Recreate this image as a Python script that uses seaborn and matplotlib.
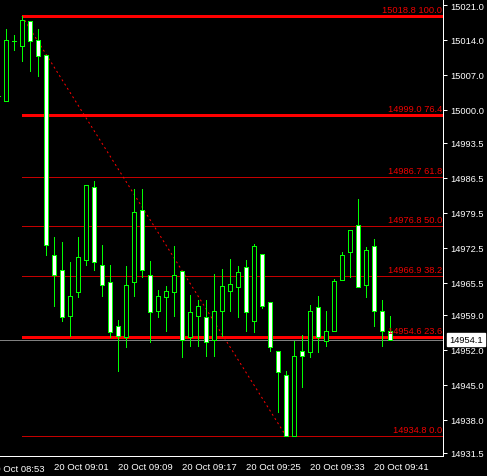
import numpy as np
import pandas as pd
import matplotlib
matplotlib.use("Agg")
import matplotlib.pyplot as plt
import matplotlib.transforms as mtransforms
import seaborn as sns

# ---- data (1-minute candles, 20 Oct 08:54 .. 09:43) ----
opens = [15002.9, 15001.9, 15013.9, 15012.9, 15017.9, 15014.1, 15011.1, 14971.1, 14968.1, 14958.9,
         14963.7, 14970.1, 14984.7, 14969.1, 14965.7, 14956.7, 14954.7, 14965.7, 14980.1, 14967.1,
         14959.9, 14962.7, 14963.7, 14967.7, 14954.7, 14958.9, 14958.7, 14954.0, 14959.9, 14963.9,
         14964.7, 14968.7, 14957.9, 14971.1, 14961.7, 14951.9, 14946.9, 14934.9, 14951.7, 14951.7,
         14960.7, 14953.9, 14955.9, 14966.1, 14971.7, 14977.1, 14965.1, 14972.7, 14959.7, 14955.7]
highs = [15002.9, 15016.2, 15015.0, 15018.8, 15017.9, 15016.2, 15011.1, 14974.7, 14973.7, 14969.7,
         14974.7, 14985.1, 14985.8, 14973.1, 14969.1, 14958.0, 14968.8, 14984.2, 14984.2, 14969.8,
         14964.0, 14964.8, 14972.8, 14967.7, 14963.0, 14962.0, 14962.0, 14967.2, 14968.2, 14970.2,
         14968.8, 14970.1, 14973.2, 14971.1, 14961.7, 14951.9, 14947.9, 14953.9, 14955.0, 14961.0,
         14962.8, 14959.9, 14966.2, 14971.7, 14976.1, 14982.2, 14972.7, 14974.2, 14962.0, 14958.9]
lows = [15002.9, 15001.9, 15012.1, 15009.9, 15007.9, 15006.9, 14971.1, 14960.9, 14957.9, 14954.9,
        14962.7, 14969.1, 14968.1, 14962.9, 14954.7, 14947.9, 14952.7, 14962.9, 14966.7, 14953.7,
        14958.7, 14955.9, 14958.9, 14950.7, 14952.9, 14952.9, 14950.9, 14950.9, 14954.9, 14959.9,
        14958.7, 14955.9, 14955.7, 14960.5, 14951.9, 14939.7, 14934.8, 14934.8, 14944.7, 14950.7,
        14951.7, 14952.9, 14955.9, 14966.1, 14966.7, 14964.7, 14962.7, 14956.9, 14952.9, 14954.0]
closes = [15002.9, 15014.1, 15013.9, 15018.1, 15013.9, 15010.9, 14973.1, 14967.1, 14958.7, 14962.7,
          14970.7, 14985.1, 14969.7, 14965.1, 14955.7, 14954.9, 14965.1, 14979.7, 14968.1, 14959.7,
          14962.9, 14963.9, 14967.1, 14954.0, 14959.7, 14960.7, 14953.7, 14959.7, 14964.7, 14965.1,
          14967.7, 14959.7, 14972.7, 14960.9, 14952.7, 14947.7, 14934.8, 14950.9, 14950.9, 14959.9,
          14954.7, 14955.7, 14965.7, 14971.1, 14976.1, 14964.7, 14972.1, 14959.9, 14955.9, 14954.1]

fib_prices = [15018.8, 14999.0, 14986.7, 14976.8, 14966.9, 14954.6, 14934.8]
fib_pcts = [100.0, 76.4, 61.8, 50.0, 38.2, 23.6, 0.0]
fib_strong = [True, True, False, False, False, True, False]

trend_prices = [15018.8, 14934.8]
current_price = 14954.1

y_ticks = [15021.0, 15014.0, 15007.0, 15000.0, 14993.5, 14986.5, 14979.5,
           14972.5, 14965.5, 14959.0, 14952.0, 14945.0, 14938.0, 14931.5]
x_tick_labels = ["20 Oct 08:53", "20 Oct 09:01", "20 Oct 09:09", "20 Oct 09:17",
                 "20 Oct 09:25", "20 Oct 09:33", "20 Oct 09:41"]

# ---- frame ----
times = pd.date_range("2013-10-20 08:54", periods=len(opens), freq="min")
df = pd.DataFrame({"t": times, "open": opens, "high": highs, "low": lows, "close": closes})
df["i"] = np.arange(len(df))

sns.set_theme(style="dark", rc={"axes.facecolor": "black", "figure.facecolor": "black",
                                "axes.grid": False})
plt.rcParams["font.family"] = ["Liberation Sans", "DejaVu Sans"]

W, H = 487, 477
fig = plt.figure(figsize=(W / 100, H / 100), dpi=100)
ax = fig.add_axes([0, 20 / H, 443 / W, 457 / H])
ax.set_facecolor("black")

GREEN = "#00ff00"
px = 0.72  # 1 pixel in points

# wicks
ax.vlines(df["i"], df["low"], df["high"], color=GREEN, linewidth=1.0 * px, zorder=2,
          antialiased=False)
# bodies
bull = df["close"] >= df["open"]
bottoms = np.minimum(df["open"], df["close"])
heights = np.abs(df["close"] - df["open"])
fills = np.where(bull, "black", "white")
ax.bar(df["i"], heights, bottom=bottoms, width=0.5, color=fills, edgecolor=GREEN,
       linewidth=1.0 * px, zorder=3, antialiased=False)

# axes limits (candle i at pixel 6 + 8*(i-1))
x0, x1 = 0.25, 55.625
ax.set_xlim(x0, x1)
ax.set_ylim(14930.8, 15022.2)

# fibonacci levels
for p, pct, strong in zip(fib_prices, fib_pcts, fib_strong):
    ax.hlines(p, 3, x1, color="#ff0000" if strong else "#c40000",
              linewidth=(1.4 if strong else 1.0) * px, zorder=1, antialiased=False)
    ax.text(55.5, p + 0.35, f"{p:.1f} {pct:.1f}", color="#f00000", fontsize=6.7,
            ha="right", va="bottom", zorder=4)

# trend line
trend = pd.DataFrame({"i": [3, 36], "p": trend_prices})
sns.lineplot(data=trend, x="i", y="p", ax=ax, color="#ff0000", linewidth=1.0 * px,
             dashes=False, zorder=1)
ax.lines[-1].set_linestyle((0, (2, 3)))

# current price line
ax.axhline(current_price, color="#808080", linewidth=1.0 * px, zorder=1, antialiased=False)

# spines / ticks
for s in ["left", "top"]:
    ax.spines[s].set_visible(False)
for s in ["right", "bottom"]:
    ax.spines[s].set_visible(True)
    ax.spines[s].set_color("white")
    ax.spines[s].set_linewidth(1.0 * px)

ax.yaxis.tick_right()
ax.set_yticks(y_ticks)
ax.set_yticklabels([f"{v:.1f}" for v in y_ticks])
ax.tick_params(axis="y", colors="white", labelcolor="white", labelsize=6.7, length=3,
               width=px, pad=2, direction="out")

minute0 = times[0]
tick_pos = [(pd.Timestamp("2013-10-20 " + s.split()[-1]) - minute0) / pd.Timedelta("1min")
            for s in x_tick_labels]
in_view = [(p, s) for p, s in zip(tick_pos, x_tick_labels) if x0 <= p <= x1]
ax.set_xticks([p for p, _ in in_view])
ax.set_xticklabels([s for _, s in in_view], ha="left")
ax.tick_params(axis="x", colors="white", labelcolor="white", labelsize=6.8, length=3,
               width=px, pad=1.5, direction="out")
ax.set_xlabel("")
ax.set_ylabel("")
# first label (its tick lies left of the view, so it is cut by the figure edge as in the source)
for p, s in zip(tick_pos, x_tick_labels):
    if p < x0:
        tr = mtransforms.blended_transform_factory(ax.transData, ax.transAxes)
        ax.text(p, 0, s, transform=tr + mtransforms.ScaledTranslation(0, -5.5 / 72, fig.dpi_scale_trans),
                color="white", fontsize=6.8, ha="left", va="top", clip_on=False)

# current price box
trb = mtransforms.blended_transform_factory(ax.transAxes, ax.transData)
ax.text(1.0, current_price, f"{current_price:.1f}", transform=trb + mtransforms.ScaledTranslation(6 / 100, 0, fig.dpi_scale_trans),
        color="black", fontsize=6.7, ha="left", va="center", zorder=5, clip_on=False,
        bbox=dict(facecolor="white", edgecolor="white", boxstyle="square,pad=0.25"))

fig.savefig("out.png", dpi=100, facecolor="black")
